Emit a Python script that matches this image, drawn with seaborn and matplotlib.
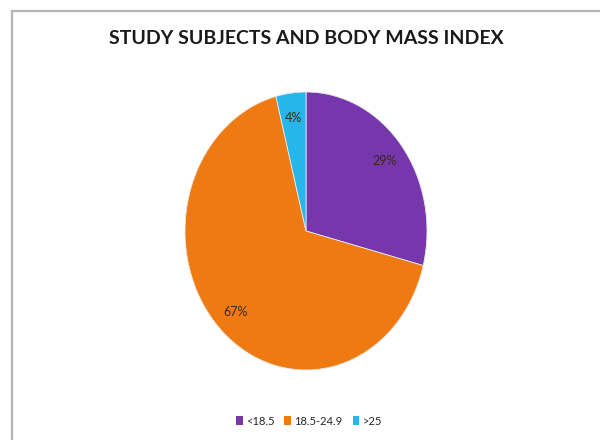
import seaborn as sns
import matplotlib.pyplot as plt
from matplotlib.patches import Patch, Rectangle

# BMI groups of the study subjects
categories = ['<18.5', '18.5-24.9', '>25']
shares = [29, 67, 4]
colors = ['#7636AC', '#F07A12', '#27B6EA']

sns.set_theme(style='white')
plt.rcParams['font.family'] = ['Lato', 'DejaVu Sans']

fig = plt.figure(figsize=(6, 4.4), dpi=100)

# grey chart-area border (runs off the right and bottom edge like the source)
fig.patches.append(Rectangle((12 / 600, -0.05), 1.0, 1 - 11 / 440 + 0.05,
                             transform=fig.transFigure, fill=False,
                             edgecolor='#B4B4B4', linewidth=1.6))

fig.text(0.51, 1 - 39 / 440, 'STUDY SUBJECTS AND BODY MASS INDEX',
         ha='center', va='center', fontsize=14, fontweight='bold',
         color='#1A1A1A')

# pie is a little taller than wide in the source, so axes aspect is free
ax = fig.add_axes([185 / 600, 70 / 440, 242 / 600, 278 / 440])
wedges, texts, autotexts = ax.pie(
    shares, colors=colors, startangle=90, counterclock=False,
    autopct=lambda p: f'{p:.0f}%', pctdistance=0.82,
    wedgeprops=dict(edgecolor='#E8E8E8', linewidth=0.6),
    textprops=dict(fontsize=9, color='#3A2A20'))
ax.set_aspect('auto')
ax.set_xlim(-1, 1)
ax.set_ylim(-1, 1)
ax.axis('off')

handles = [Patch(facecolor=c, edgecolor='none') for c in colors]
fig.legend(handles, categories, loc='center', ncol=3,
           bbox_to_anchor=(0.515, 1 - 421 / 440), frameon=False,
           fontsize=8, handlelength=0.6, handleheight=0.9,
           handletextpad=0.3, columnspacing=0.9)

fig.savefig('out.png', dpi=100)
